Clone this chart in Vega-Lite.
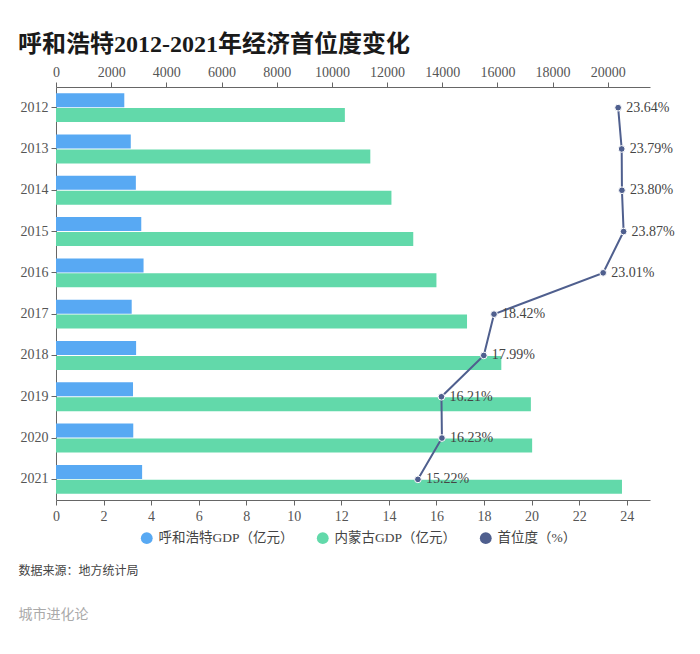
{
  "$schema": "https://vega.github.io/schema/vega-lite/v6.json",
  "width": 594,
  "height": 413,
  "autosize": {"type": "none"},
  "padding": {"left": 56, "top": 87, "right": 50, "bottom": 154},
  "background": "white",
  "title": {
    "text": "呼和浩特2012-2021年经济首位度变化",
    "anchor": "start",
    "dx": 0,
    "offset": 8,
    "fontSize": 24,
    "fontWeight": "bold",
    "font": "Liberation Serif, Noto Sans CJK SC",
    "color": "#1a1a1a"
  },
  "datasets": {
    "gdp": [
      {"year": "2012", "series": "呼和浩特GDP（亿元）", "value": 2475.6},
      {"year": "2012", "series": "内蒙古GDP（亿元）", "value": 10470.1},
      {"year": "2013", "series": "呼和浩特GDP（亿元）", "value": 2710.4},
      {"year": "2013", "series": "内蒙古GDP（亿元）", "value": 11392.4},
      {"year": "2014", "series": "呼和浩特GDP（亿元）", "value": 2894.4},
      {"year": "2014", "series": "内蒙古GDP（亿元）", "value": 12158.2},
      {"year": "2015", "series": "呼和浩特GDP（亿元）", "value": 3090.5},
      {"year": "2015", "series": "内蒙古GDP（亿元）", "value": 12949.0},
      {"year": "2016", "series": "呼和浩特GDP（亿元）", "value": 3173.6},
      {"year": "2016", "series": "内蒙古GDP（亿元）", "value": 13789.3},
      {"year": "2017", "series": "呼和浩特GDP（亿元）", "value": 2743.7},
      {"year": "2017", "series": "内蒙古GDP（亿元）", "value": 14898.1},
      {"year": "2018", "series": "呼和浩特GDP（亿元）", "value": 2903.5},
      {"year": "2018", "series": "内蒙古GDP（亿元）", "value": 16140.8},
      {"year": "2019", "series": "呼和浩特GDP（亿元）", "value": 2791.5},
      {"year": "2019", "series": "内蒙古GDP（亿元）", "value": 17212.5},
      {"year": "2020", "series": "呼和浩特GDP（亿元）", "value": 2800.7},
      {"year": "2020", "series": "内蒙古GDP（亿元）", "value": 17258.0},
      {"year": "2021", "series": "呼和浩特GDP（亿元）", "value": 3121.4},
      {"year": "2021", "series": "内蒙古GDP（亿元）", "value": 20514.2}
    ],
    "share": [
      {"year": "2012", "pct": 23.64, "label": "23.64%"},
      {"year": "2013", "pct": 23.79, "label": "23.79%"},
      {"year": "2014", "pct": 23.80, "label": "23.80%"},
      {"year": "2015", "pct": 23.87, "label": "23.87%"},
      {"year": "2016", "pct": 23.01, "label": "23.01%"},
      {"year": "2017", "pct": 18.42, "label": "18.42%"},
      {"year": "2018", "pct": 17.99, "label": "17.99%"},
      {"year": "2019", "pct": 16.21, "label": "16.21%"},
      {"year": "2020", "pct": 16.23, "label": "16.23%"},
      {"year": "2021", "pct": 15.22, "label": "15.22%"}
    ]
  },
  "config": {
    "view": {"stroke": null},
    "font": "Liberation Serif, Noto Sans CJK SC",
    "axis": {
      "domainColor": "#666666",
      "tickColor": "#666666",
      "tickSize": 5,
      "grid": false,
      "labelFont": "Liberation Serif",
      "labelFontSize": 14,
      "labelColor": "#555555",
      "labelPadding": 3,
      "labelFlush": false
    }
  },
  "layer": [
    {
      "data": {"name": "gdp"},
      "mark": {"type": "bar"},
      "encoding": {
        "y": {
          "field": "year",
          "type": "nominal",
          "scale": {"paddingInner": 0.3, "paddingOuter": 0.15},
          "axis": {"title": null, "labelFontSize": 14, "labelPadding": 3}
        },
        "yOffset": {
          "field": "series",
          "type": "nominal",
          "scale": {"domain": ["呼和浩特GDP（亿元）", "内蒙古GDP（亿元）"], "paddingInner": 0.06}
        },
        "x": {
          "field": "value",
          "type": "quantitative",
          "scale": {"domain": [0, 21530], "nice": false},
          "axis": {
            "orient": "top",
            "values": [0, 2000, 4000, 6000, 8000, 10000, 12000, 14000, 16000, 18000, 20000],
            "format": "d",
            "title": "城市进化论",
            "titleAnchor": "start",
            "titleAlign": "left",
            "titleBaseline": "middle",
            "titleX": -38,
            "titleY": 527,
            "titleFontSize": 14,
            "titleFontWeight": "normal",
            "titleColor": "#aaaaaa",
            "titleFont": "Noto Sans CJK SC"
          }
        },
        "color": {
          "field": "series",
          "type": "nominal",
          "scale": {
            "domain": ["呼和浩特GDP（亿元）", "内蒙古GDP（亿元）", "首位度（%）"],
            "range": ["#58a9f3", "#62d9aa", "#4f5f8e"]
          },
          "legend": {
            "title": null,
            "orient": "none",
            "legendX": 84,
            "legendY": 444,
            "direction": "horizontal",
            "symbolType": "circle",
            "symbolSize": 140,
            "symbolStrokeWidth": 0,
            "symbolOpacity": 1,
            "labelFont": "Liberation Serif, Noto Sans CJK SC",
            "labelFontSize": 13.5,
            "labelColor": "#444444",
            "columnPadding": 22,
            "labelOffset": 5
          }
        }
      }
    },
    {
      "data": {"name": "share"},
      "encoding": {
        "y": {"field": "year", "type": "nominal"},
        "x": {
          "field": "pct",
          "type": "quantitative",
          "scale": {"domain": [0, 24.98], "nice": false},
          "axis": {
            "orient": "bottom",
            "values": [0, 2, 4, 6, 8, 10, 12, 14, 16, 18, 20, 22, 24],
            "title": "数据来源：地方统计局",
            "titleAnchor": "start",
            "titleAlign": "left",
            "titleBaseline": "middle",
            "titleX": -38,
            "titleY": 70,
            "titleFontSize": 12,
            "titleFontWeight": "normal",
            "titleColor": "#444444",
            "titleFont": "Noto Sans CJK SC",
            "labelPadding": 4
          }
        }
      },
      "layer": [
        {
          "mark": {"type": "line", "strokeWidth": 2},
          "encoding": {
            "color": {"datum": "首位度（%）"},
            "order": {"field": "year", "type": "ordinal"}
          }
        },
        {
          "mark": {"type": "point", "filled": true, "size": 45, "opacity": 1, "stroke": "white", "strokeWidth": 1},
          "encoding": {"color": {"datum": "首位度（%）"}}
        },
        {
          "mark": {"type": "text", "align": "left", "baseline": "middle", "dx": 8, "fontSize": 14, "font": "Liberation Serif", "color": "#444444"},
          "encoding": {"text": {"field": "label"}}
        }
      ]
    }
  ],
  "resolve": {"scale": {"x": "independent"}, "axis": {"x": "independent"}}
}
